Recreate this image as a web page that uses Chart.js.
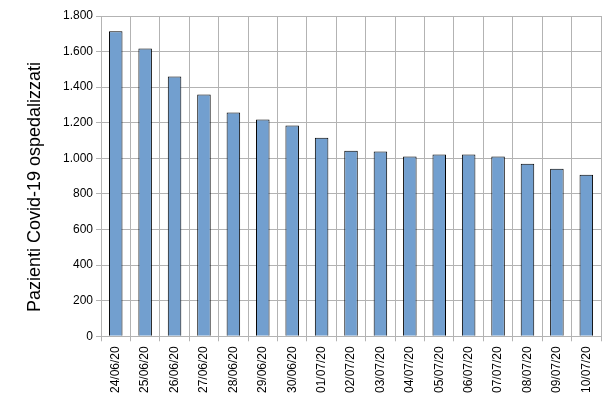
<!DOCTYPE html>
<html><head><meta charset="utf-8">
<script src="https://cdn.jsdelivr.net/npm/chart.js@4/dist/chart.umd.min.js"></script>
<style>html,body{margin:0;padding:0;background:#fff}#w{width:610px;height:402px}</style>
</head><body><div id="w"><canvas id="c" width="610" height="402"></canvas></div>
<script>
const categories = ["24/06/20","25/06/20","26/06/20","27/06/20","28/06/20","29/06/20","30/06/20","01/07/20","02/07/20","03/07/20","04/07/20","05/07/20","06/07/20","07/07/20","08/07/20","09/07/20","10/07/20"];
const ricoverati = [1714,1618,1460,1359,1257,1218,1184,1116,1043,1038,1010,1021,1021,1010,970,942,908];
const yTitle = "Pazienti Covid-19 ospedalizzati";

const grid = '#b3b3b3';
const titlePlugin = {
  id: 'ytitle',
  afterDraw(chart) {
    const ctx = chart.ctx;
    ctx.save();
    ctx.translate(35, 187);
    ctx.rotate(-Math.PI / 2);
    ctx.font = '18px "Liberation Sans"';
    ctx.fillStyle = '#000';
    ctx.textAlign = 'center';
    ctx.textBaseline = 'middle';
    ctx.fillText(yTitle, 0, 0);
    ctx.restore();
  }
};
new Chart(document.getElementById('c'), {
  type: 'bar',
  data: { labels: categories, datasets: [{ data: ricoverati, backgroundColor: '#729fcf', borderColor: '#000', borderWidth: 1, categoryPercentage: 1, barPercentage: 0.46 }] },
  options: {
    responsive: false, animation: false,
    layout: { padding: { top: 16, right: 9, left: 60, bottom: 4 } },
    plugins: { legend: { display: false }, tooltip: { enabled: false } },
    scales: {
      x: {
        grid: { color: grid, offset: true, tickLength: 5 },
        border: { color: grid },
        ticks: { color: '#000', font: { family: 'Liberation Sans', size: 12 }, minRotation: 90, maxRotation: 90, padding: 5 }
      },
      y: {
        min: 0, max: 1800,
        grid: { color: grid, tickLength: 5 },
        border: { color: grid },
        ticks: { stepSize: 200, color: '#000', font: { family: 'Liberation Sans', size: 12 }, padding: 3,
          callback: v => v.toLocaleString('it-IT').replace(/\u00a0/g,'.') }
      }
    }
  },
  plugins: [titlePlugin]
});
</script></body></html>
